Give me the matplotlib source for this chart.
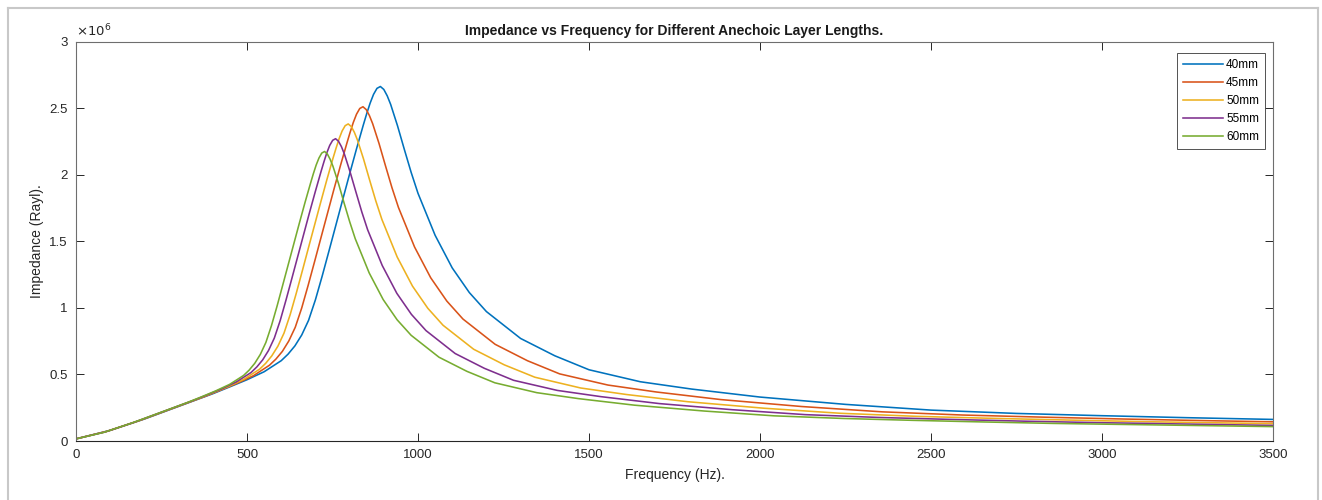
import matplotlib
matplotlib.use("Agg")
import matplotlib.pyplot as plt
from matplotlib.lines import Line2D

plt.rcParams['font.family'] = ['Liberation Sans', 'DejaVu Sans']

# points: frequency (Hz) and impedance (x 1e6 Rayl)
freq_40 = [0, 100, 200, 300, 400, 450, 500, 550, 600, 620, 640, 660, 680, 700, 720, 740,
           760, 780, 800, 820, 840, 850, 860, 870, 880, 890, 900, 910, 920, 940, 960, 980,
           1000, 1050, 1100, 1150, 1200, 1300, 1400, 1500, 1650, 1800, 2000, 2250, 2500,
           2750, 3000, 3250, 3500]
z_40 = [0.016, 0.080, 0.165, 0.260, 0.355, 0.407, 0.460, 0.520, 0.603, 0.652, 0.714, 0.796,
        0.906, 1.060, 1.240, 1.430, 1.622, 1.814, 2.005, 2.192, 2.372, 2.458, 2.537, 2.603,
        2.648, 2.662, 2.640, 2.592, 2.528, 2.368, 2.190, 2.017, 1.860, 1.545, 1.300, 1.115,
        0.972, 0.770, 0.640, 0.535, 0.445, 0.390, 0.330, 0.275, 0.232, 0.207, 0.190, 0.175,
        0.162]

freq_45 = [0, 94.3, 188.6, 282.8, 377.1, 424.3, 471.4, 518.5, 565.7, 584.5, 603.4, 622.2,
           641.1, 660.0, 678.8, 697.7, 716.5, 735.4, 754.2, 773.1, 792.0, 801.4, 810.8, 820.2,
           829.7, 839.1, 848.5, 857.9, 867.4, 886.2, 905.1, 923.9, 942.8, 989.9, 1037.1,
           1084.2, 1131.4, 1225.6, 1319.9, 1414.2, 1555.6, 1697.0, 1885.6, 2121.3, 2357.0,
           2592.7, 2828.4, 3064.1, 3299.8, 3500]
z_45 = [0.016, 0.075, 0.156, 0.245, 0.335, 0.384, 0.434, 0.490, 0.569, 0.615, 0.673, 0.751,
        0.854, 0.999, 1.169, 1.348, 1.529, 1.710, 1.890, 2.067, 2.236, 2.317, 2.392, 2.454,
        2.497, 2.510, 2.489, 2.444, 2.383, 2.233, 2.065, 1.902, 1.754, 1.457, 1.226, 1.051,
        0.916, 0.726, 0.603, 0.504, 0.420, 0.368, 0.311, 0.259, 0.219, 0.195, 0.179, 0.165,
        0.153, 0.144]

freq_50 = [0, 89.4, 178.9, 268.3, 357.8, 402.5, 447.2, 491.9, 536.7, 554.5, 572.4, 590.3,
           608.2, 626.1, 644.0, 661.9, 679.7, 697.6, 715.5, 733.4, 751.3, 760.3, 769.2, 778.1,
           787.1, 796.0, 805.0, 813.9, 822.8, 840.7, 858.6, 876.5, 894.4, 939.1, 983.9,
           1028.6, 1073.3, 1162.7, 1252.2, 1341.6, 1475.8, 1609.9, 1788.8, 2012.4, 2236.0,
           2459.6, 2683.2, 2906.8, 3130.4, 3500]
z_50 = [0.016, 0.072, 0.148, 0.233, 0.318, 0.364, 0.411, 0.465, 0.539, 0.583, 0.639, 0.712,
        0.810, 0.948, 1.109, 1.279, 1.451, 1.622, 1.793, 1.961, 2.122, 2.198, 2.269, 2.328,
        2.368, 2.381, 2.361, 2.318, 2.261, 2.118, 1.959, 1.804, 1.664, 1.382, 1.163, 0.997,
        0.869, 0.689, 0.572, 0.479, 0.398, 0.349, 0.295, 0.246, 0.208, 0.185, 0.170, 0.157,
        0.145, 0.130]

freq_55 = [0, 85.3, 170.6, 255.8, 341.1, 383.8, 426.4, 469.0, 511.7, 528.7, 545.8, 562.8,
           579.9, 597.0, 614.0, 631.1, 648.1, 665.2, 682.2, 699.3, 716.4, 724.9, 733.4, 741.9,
           750.5, 759.0, 767.5, 776.0, 784.6, 801.6, 818.7, 835.7, 852.8, 895.4, 938.1,
           980.7, 1023.4, 1108.6, 1193.9, 1279.2, 1407.1, 1535.0, 1705.6, 1918.8, 2132.0,
           2345.2, 2558.4, 2771.6, 2984.8, 3500]
z_55 = [0.016, 0.068, 0.141, 0.222, 0.303, 0.347, 0.392, 0.444, 0.514, 0.556, 0.609, 0.679,
        0.773, 0.904, 1.058, 1.220, 1.383, 1.547, 1.710, 1.869, 2.023, 2.096, 2.164, 2.220,
        2.258, 2.270, 2.251, 2.211, 2.156, 2.019, 1.868, 1.720, 1.586, 1.318, 1.109, 0.951,
        0.829, 0.657, 0.546, 0.456, 0.380, 0.333, 0.281, 0.235, 0.198, 0.177, 0.162, 0.149,
        0.138, 0.117]

freq_60 = [0, 81.6, 163.3, 244.9, 326.6, 367.4, 408.2, 449.1, 489.9, 506.2, 522.6, 538.9,
           555.2, 571.5, 587.9, 604.2, 620.5, 636.9, 653.2, 669.5, 685.9, 694.0, 702.2, 710.4,
           718.5, 726.7, 734.8, 743.0, 751.2, 767.5, 783.8, 800.2, 816.5, 857.3, 898.2,
           939.0, 979.8, 1061.5, 1143.1, 1224.7, 1347.2, 1469.7, 1633.0, 1837.1, 2041.2,
           2245.4, 2449.5, 2653.6, 2857.8, 3500]
z_60 = [0.016, 0.065, 0.135, 0.212, 0.290, 0.332, 0.376, 0.425, 0.492, 0.532, 0.583, 0.650,
        0.740, 0.866, 1.013, 1.168, 1.324, 1.481, 1.637, 1.790, 1.937, 2.007, 2.072, 2.125,
        2.162, 2.174, 2.156, 2.116, 2.064, 1.934, 1.788, 1.647, 1.519, 1.262, 1.062, 0.910,
        0.794, 0.629, 0.523, 0.437, 0.363, 0.318, 0.269, 0.225, 0.189, 0.169, 0.155, 0.143,
        0.132, 0.108]

labels = ['40mm', '45mm', '50mm', '55mm', '60mm']
curves = [(freq_40, z_40), (freq_45, z_45), (freq_50, z_50), (freq_55, z_55), (freq_60, z_60)]
colors = ['#0072BD', '#D95319', '#EDB120', '#7E2F8E', '#77AC30']

fig = plt.figure(figsize=(13.22, 5.0), dpi=100)
ax = fig.add_axes([76/1322, 1 - 441/500, 1197/1322, 399.5/500])

for (f, z), lab, c in zip(curves, labels, colors):
    ax.plot(f, z, color=c, lw=1.15, label=lab)

ax.set_xlim(0, 3500)
ax.set_ylim(0, 3)
ax.set_xticks(range(0, 3501, 500))
ax.set_yticks([0, 0.5, 1, 1.5, 2, 2.5, 3])
ax.set_yticklabels(['0', '0.5', '1', '1.5', '2', '2.5', '3'])
ax.tick_params(direction='in', length=6, width=0.7, colors='#262626', labelsize=9.5,
               top=True, right=True, pad=6)
for sp in ax.spines.values():
    sp.set_color('#6e6e6e')
    sp.set_linewidth(0.8)
ax.spines['bottom'].set_color('#262626')

ax.set_title('Impedance vs Frequency for Different Anechoic Layer Lengths.',
             fontsize=10, fontweight='bold', color='#1a1a1a', pad=5)
ax.set_xlabel('Frequency (Hz).', fontsize=10, color='#262626', labelpad=5)
ax.set_ylabel('Impedance (Rayl).', fontsize=10, color='#262626', labelpad=4)
ax.text(0.0, 1.005, r'$\times10^{6}$', transform=ax.transAxes, fontsize=9.5,
        color='#262626', ha='left', va='bottom')

leg = ax.legend(loc='upper right', bbox_to_anchor=(0.9933, 0.9712), fontsize=8.5,
                frameon=True, fancybox=False, edgecolor='#262626', handlelength=3.4,
                handletextpad=0.25, borderaxespad=0, labelspacing=0.52, borderpad=0.5)
leg.get_frame().set_linewidth(0.7)

# light frame around the whole figure
fig.add_artist(Line2D([8/1322, 1318/1322], [1 - 8/500, 1 - 8/500], color='#c8c8c8', lw=1.5))
fig.add_artist(Line2D([8/1322, 8/1322], [1 - 8/500, 0], color='#c8c8c8', lw=1.5))
fig.add_artist(Line2D([1318/1322, 1318/1322], [1 - 8/500, 0], color='#c8c8c8', lw=1.5))

fig.savefig('out.png', dpi=100)
